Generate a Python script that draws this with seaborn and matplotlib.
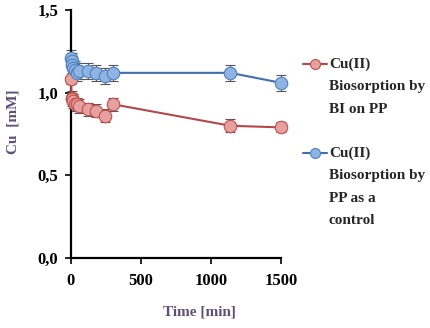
import matplotlib
matplotlib.use("Agg")
import matplotlib.pyplot as plt
import seaborn as sns
import pandas as pd

# Sampling times (min) and Cu concentrations (mM)
time_min = [0, 5, 10, 15, 30, 45, 60, 120, 180, 240, 300, 1140, 1500]
cu_bi_pp = [1.08, 0.97, 0.96, 0.95, 0.93, 0.93, 0.92, 0.90, 0.89, 0.86, 0.93, 0.80, 0.79]
cu_pp_ctrl = [1.21, 1.19, 1.17, 1.15, 1.14, 1.12, 1.13, 1.13, 1.12, 1.10, 1.12, 1.12, 1.06]
err_bi_pp = [0.03, 0.04, 0.04, 0.04, 0.04, 0.04, 0.04, 0.04, 0.04, 0.04, 0.04, 0.04, 0.03]
err_pp_ctrl = [0.05, 0.05, 0.05, 0.05, 0.05, 0.05, 0.05, 0.05, 0.05, 0.05, 0.05, 0.05, 0.05]

labels = ["Cu(II)\nBiosorption by\nBI on PP", "Cu(II)\nBiosorption by\nPP as a\ncontrol"]
x_ticks = [0, 500, 1000, 1500]
y_ticks = [0.0, 0.5, 1.0, 1.5]
y_ticklabels = ["0,0", "0,5", "1,0", "1,5"]

sns.set_style("ticks")
plt.rcParams["font.family"] = ["Liberation Serif", "DejaVu Serif"]
plt.rcParams["font.weight"] = "bold"

df = pd.DataFrame({
    "time": time_min * 2,
    "cu": cu_bi_pp + cu_pp_ctrl,
    "err": err_bi_pp + err_pp_ctrl,
    "series": [labels[0]] * len(time_min) + [labels[1]] * len(time_min),
})

fig = plt.figure(figsize=(4.30, 3.28), dpi=100)
ax = fig.add_axes([0.165, 0.2134, 0.488, 0.756])

styles = {
    labels[0]: dict(line="#b5474a", face="#e6a09f", edge="#c0504d"),
    labels[1]: dict(line="#3f70ae", face="#8fb4e3", edge="#4f81bd"),
}

for name, sub in df.groupby("series", sort=False):
    st = styles[name]
    ax.errorbar(sub["time"], sub["cu"], yerr=sub["err"], fmt="none",
                ecolor="#555555", elinewidth=0.8, capsize=3.5, capthick=0.8, zorder=2)
    sns.lineplot(data=sub, x="time", y="cu", ax=ax, color=st["line"], linewidth=1.5,
                 marker="o", markersize=9, markerfacecolor=st["face"],
                 markeredgecolor=st["edge"], markeredgewidth=0.8, label=name, zorder=3)

ax.set_xlim(0, 1500)
ax.set_ylim(0, 1.5)
ax.set_xticks(x_ticks)
ax.set_xticklabels([str(t) for t in x_ticks], fontsize=12, fontweight="bold")
ax.set_yticks(y_ticks)
ax.set_yticklabels(y_ticklabels, fontsize=12, fontweight="bold")
ax.tick_params(axis="both", direction="out", length=4, width=1.2, colors="black", pad=5)
ax.tick_params(axis="x", pad=7)
for side in ("top", "right"):
    ax.spines[side].set_visible(False)
for side in ("left", "bottom"):
    ax.spines[side].set_linewidth(1.6)
    ax.spines[side].set_color("black")
for ln in ax.lines:
    ln.set_clip_on(False)
for coll in ax.collections:
    coll.set_clip_on(False)

ax.set_xlabel("Time [min]", fontsize=11, fontweight="bold", color="#5e4f78")
ax.xaxis.set_label_coords(0.614, -0.19)
ax.set_ylabel("Cu  [mM]", fontsize=11, fontweight="bold", color="#5e4f78")
ax.yaxis.set_label_coords(-0.245, 0.55)

leg = ax.legend(loc="upper left", bbox_to_anchor=(1.105, 0.81), frameon=False,
                fontsize=11, handlelength=1.6, handleheight=1.25, handletextpad=0.1,
                labelspacing=2.0, borderaxespad=0, borderpad=0, markerscale=0.8)
for txt in leg.get_texts():
    txt.set_fontweight("bold")
    txt.set_linespacing(1.95)
# put each legend marker beside the first line of its label
for column in leg._legend_handle_box.get_children():
    for row in column.get_children():
        row.align = "top"

fig.savefig("out.png", dpi=100)
